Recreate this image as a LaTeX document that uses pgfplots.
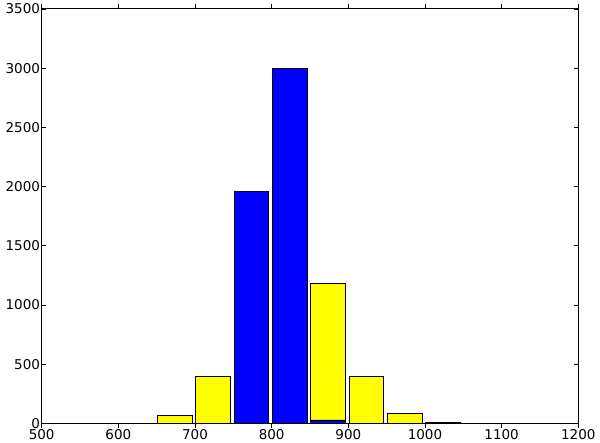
\documentclass[border=0pt]{standalone}
\usepackage{pgfplots}
\pgfplotsset{compat=1.18}
\usepackage{fontspec}
\setmainfont{DejaVu Sans}
\begin{document}
\begin{tikzpicture}
\begin{axis}[
 width=536.6pt, height=414.3pt, scale only axis,
 xmin=500, xmax=1200, ymin=0, ymax=3500,
 xtick={500,600,...,1200}, ytick={0,500,...,3500},
 tick align=inside, major tick length=4.5pt,
 tick style={black, line width=0.6pt},
 axis line style={line width=1pt},
 ticklabel style={font=\fontsize{13.5}{15}\selectfont},
 /pgf/number format/assume math mode=true,
 /pgf/number format/1000 sep={},
 xticklabel style={yshift=2.3pt},
 yticklabel style={xshift=1.8pt},
 ybar, bar width=45, bar shift=0pt,
]
\addplot[fill={rgb,255:red,255;green,255;blue,0}, draw=black, line width=0.8pt] coordinates {
 (673.5,64) (723.5,397) (873.5,1179) (923.5,397) (973.5,84) (1023.5,5)
};
\addplot[fill={rgb,255:red,0;green,0;blue,255}, draw=black, line width=0.8pt] coordinates {
 (773.5,1956) (823.5,3000) (873.5,28)
};
\end{axis}
\pgfresetboundingbox
\useasboundingbox (-41.7pt,-19.7pt) rectangle (558.3pt,423.3pt);
\end{tikzpicture}
\end{document}
